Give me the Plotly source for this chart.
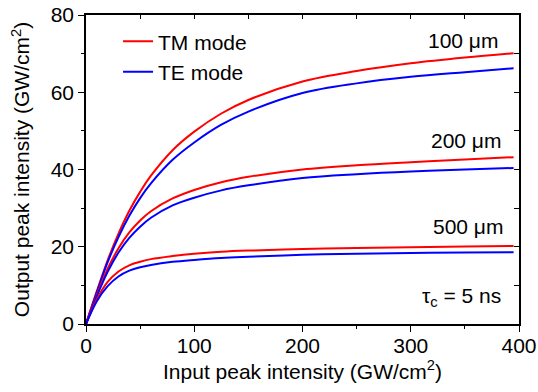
import plotly.graph_objects as go

# Input peak intensity (GW/cm^2)
x_in = [0, 10, 20, 30, 40, 50, 60, 80, 100, 125, 150, 200, 250, 300, 350, 395]

# Output peak intensity (GW/cm^2)
tm_100 = [0, 8.5, 16.5, 23.4, 29.3, 34.2, 38.4, 45.0, 49.8, 54.5, 58.0, 62.8, 65.5, 67.5, 69.0, 70.1]
te_100 = [0, 8.2, 16.0, 22.5, 28.0, 32.6, 36.4, 42.5, 47.0, 51.6, 55.0, 59.8, 62.3, 64.0, 65.2, 66.2]
tm_200 = [0, 7.6, 14.3, 19.6, 23.7, 26.8, 29.2, 32.5, 34.7, 36.7, 38.1, 40.0, 41.1, 41.9, 42.6, 43.2]
te_200 = [0, 7.2, 13.5, 18.5, 22.3, 25.2, 27.5, 30.7, 32.7, 34.6, 35.9, 37.8, 38.8, 39.5, 40.0, 40.4]
tm_500 = [0, 6.4, 10.9, 13.6, 15.2, 16.1, 16.8, 17.6, 18.2, 18.7, 19.0, 19.4, 19.7, 19.9, 20.05, 20.2]
te_500 = [0, 5.9, 9.8, 12.3, 13.8, 14.7, 15.3, 16.1, 16.6, 17.1, 17.4, 17.9, 18.2, 18.4, 18.5, 18.6]

series = [
    ("TM mode", tm_100, "#ff0000", True),
    ("TE mode", te_100, "#0000ff", True),
    ("TM mode", tm_200, "#ff0000", False),
    ("TE mode", te_200, "#0000ff", False),
    ("TM mode", tm_500, "#ff0000", False),
    ("TE mode", te_500, "#0000ff", False),
]

labels = ["100 \u03bcm", "200 \u03bcm", "500 \u03bcm", "\u03c4<sub>c</sub> = 5 ns"]

FONT = "Liberation Sans, Arial, sans-serif"
FS = 21

fig = go.Figure()
for name, ys, col, show in series:
    fig.add_trace(go.Scatter(
        x=x_in, y=ys, mode="lines", name=name, showlegend=show,
        line=dict(color=col, width=2, shape="spline", smoothing=1.0),
    ))

# empty trace to anchor mirrored (top/right) axes
fig.add_trace(go.Scatter(x=[], y=[], xaxis="x2", yaxis="y2", showlegend=False, hoverinfo="skip"))

axis_common = dict(showgrid=False, zeroline=False, showline=True, linecolor="black",
                   linewidth=1.5, tickcolor="black", tickwidth=1.2,
                   tickfont=dict(family=FONT, size=FS, color="black"))

fig.update_layout(
    width=538, height=392,
    margin=dict(l=86, r=19, t=15, b=68, autoexpand=False),
    paper_bgcolor="white", plot_bgcolor="white",
    font=dict(family=FONT, size=FS, color="black"),
    xaxis=dict(range=[0, 400], dtick=100, ticks="outside", ticklen=6,
               ticklabelstandoff=-4, automargin=True,
               minor=dict(dtick=50, ticks="outside", ticklen=3, tickcolor="black"),
               title=dict(text="Input peak intensity (GW/cm<sup>2</sup>)",
                          font=dict(family=FONT, size=FS), standoff=6),
               **axis_common),
    yaxis=dict(range=[0, 80], dtick=20, ticks="outside", ticklen=6, automargin=False,
               minor=dict(dtick=10, ticks="outside", ticklen=3, tickcolor="black"),
               title=dict(text="Output peak intensity (GW/cm<sup>2</sup>)",
                          font=dict(family=FONT, size=FS)),
               **axis_common),
    xaxis2=dict(range=[0, 400], overlaying="x", side="top", anchor="y2", dtick=50,
                ticks="inside", ticklen=4, showticklabels=False, automargin=False,
                **axis_common),
    yaxis2=dict(range=[0, 80], overlaying="y", side="right", anchor="x2", dtick=10,
                ticks="inside", ticklen=5, showticklabels=False, automargin=False,
                **axis_common),
    legend=dict(x=0.074, y=0.98, xanchor="left", yanchor="top",
                bgcolor="rgba(0,0,0,0)", font=dict(family=FONT, size=FS),
                tracegroupgap=0),
    showlegend=True,
)

ann_pos = [(0.956, 0.919), (0.963, 0.595), (0.968, 0.314), (0.963, 0.087)]
for txt, (ax, ay) in zip(labels, ann_pos):
    fig.add_annotation(text=txt, x=ax, y=ay, xref="paper", yref="paper",
                       xanchor="right", yanchor="middle", showarrow=False,
                       font=dict(family=FONT, size=FS, color="black"))

fig.write_html("out.html", config={"displayModeBar": False},
               post_script="document.body.style.margin='0';")
